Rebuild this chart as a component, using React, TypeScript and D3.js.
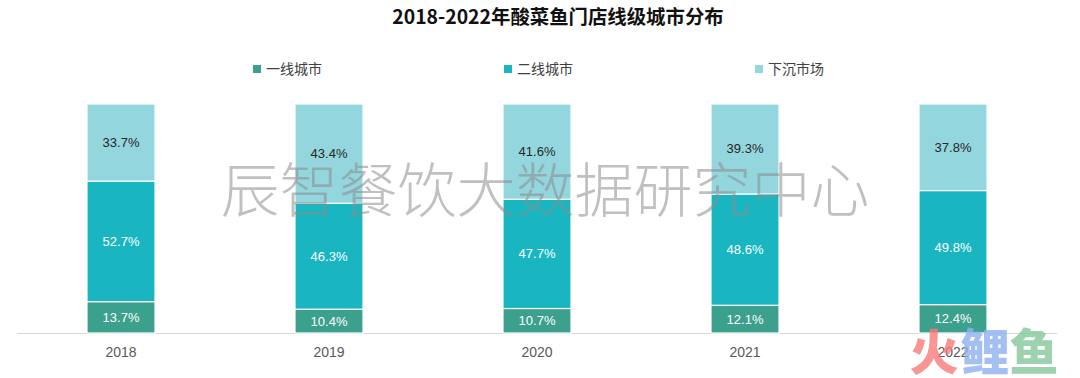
import React from "react";
import * as d3 from "d3";

const years = ["2018", "2019", "2020", "2021", "2022"];
const seriesNames = ["一线城市", "二线城市", "下沉市场"];
const tier1 = [13.7, 10.4, 10.7, 12.1, 12.4];
const tier2 = [52.7, 46.3, 47.7, 48.6, 49.8];
const lower = [33.7, 43.4, 41.6, 39.3, 37.8];
const colors = ["#3ba08c", "#19b6c2", "#93d6de"];
const labelColors = ["#ffffff", "#ffffff", "#262626"];
const title = "2018-2022年酸菜鱼门店线级城市分布";
const watermark = "辰智餐饮大数据研究中心";

const W = 1080;
const H = 378;

export default function App() {
  const rows = years.map((y, i) => ({ year: y, s0: tier1[i], s1: tier2[i], s2: lower[i] }));
  const stack = d3.stack<any>().keys(["s0", "s1", "s2"]).offset(d3.stackOffsetExpand);
  const stacked = stack(rows);
  const x = d3.scaleBand<string>().domain(years).range([17, 1057]).paddingInner(0.673).paddingOuter(0.3365);
  const y = d3.scaleLinear().domain([0, 1]).range([333, 104]);
  const cjk = "'Noto Sans CJK SC', 'Noto Sans', sans-serif";
  const latin = "'Liberation Sans', Arial, sans-serif";
  const legendX = [253, 504, 755];
  const logo = [
    { ch: "火", cx: 934, color: "#f77b7b" },
    { ch: "鲤", cx: 985, color: "#8db0f0" },
    { ch: "鱼", cx: 1034, color: "#84c79a" },
  ];
  return (
    <svg width={W} height={H} style={{ position: "absolute", left: 0, top: 0, background: "#fff" }}>
      <rect width={W} height={H} fill="#ffffff" />
      <text x={558} y={24} textAnchor="middle" fontFamily={cjk} fontWeight={700} fontSize={19.4} fill="#111">
        {title}
      </text>
      {seriesNames.map((n, i) => (
        <g key={n}>
          <rect x={legendX[i]} y={65} width={8} height={8} fill={colors[i]} />
          <text x={legendX[i] + 13} y={74} fontFamily={cjk} fontSize={14} fill="#404040">
            {n}
          </text>
        </g>
      ))}
      <line x1={17} x2={1057} y1={333.5} y2={333.5} stroke="#d9d9d9" strokeWidth={1} />
      {stacked.map((layer, li) => (
        <g key={li}>
          {layer.map((d, i) => {
            const y0 = y(d[0]);
            const y1 = y(d[1]);
            const xx = x(years[i])!;
            const vals = [tier1, tier2, lower][li];
            return (
              <g key={i}>
                <rect x={xx} y={y1} width={x.bandwidth()} height={y0 - y1} fill={colors[li]} stroke="#ffffff" strokeWidth={1.2} />
                <text
                  x={xx + x.bandwidth() / 2}
                  y={(y0 + y1) / 2 + 4.5}
                  textAnchor="middle"
                  fontFamily={latin}
                  fontSize={13}
                  fill={labelColors[li]}
                >
                  {vals[i].toFixed(1)}%
                </text>
              </g>
            );
          })}
        </g>
      ))}
      {years.map((yr) => (
        <text key={yr} x={x(yr)! + x.bandwidth() / 2} y={357} textAnchor="middle" fontFamily={latin} fontSize={14} fill="#595959">
          {yr}
        </text>
      ))}
      <text x={545} y={212} textAnchor="middle" fontFamily={cjk} fontWeight={300} fontSize={59} fill="#8c8c8c" fillOpacity={0.55}>
        {watermark}
      </text>
      {logo.map((l) => (
        <text key={l.ch} x={l.cx} y={370} textAnchor="middle" fontFamily={cjk} fontWeight={900} fontSize={49} fill={l.color} fillOpacity={0.8}>
          {l.ch}
        </text>
      ))}
    </svg>
  );
}
